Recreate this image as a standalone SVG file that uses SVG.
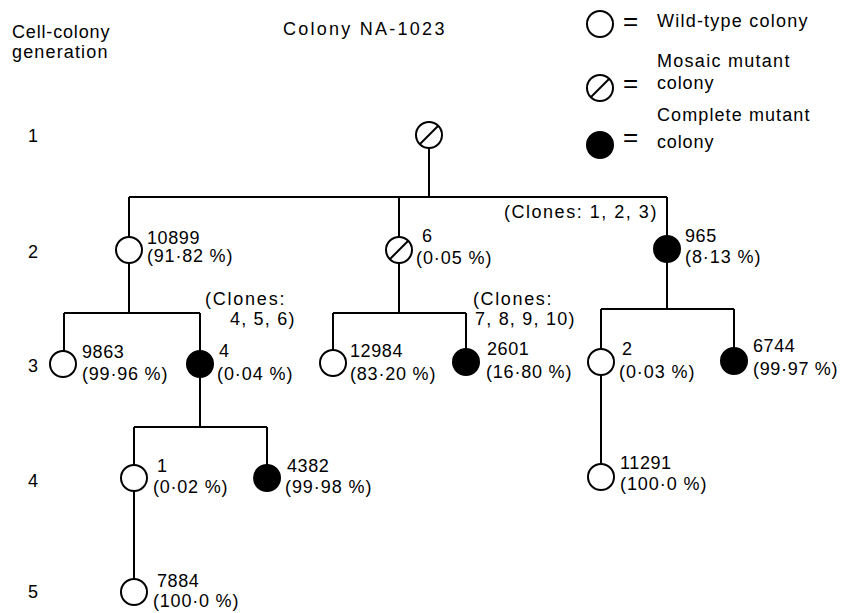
<svg xmlns="http://www.w3.org/2000/svg" width="841" height="613" viewBox="0 0 841 613">
<defs>
<style>
.t{font-family:"Liberation Sans",Arial,sans-serif;font-size:18px;fill:#000;letter-spacing:0.6px}
.eq{font-family:"Liberation Sans",Arial,sans-serif;font-size:26px;fill:#000}
.w{fill:#fff;stroke:#000;stroke-width:2}
.f{fill:#000;stroke:#000;stroke-width:2}
.s{stroke:#000;stroke-width:2;fill:none}
#connectors path{stroke:#000;stroke-width:2;fill:none}
</style>
</defs>
<rect width="841" height="613" fill="#fff"/>

<g id="headers">
<text class="t" x="12" y="38" textLength="98" lengthAdjust="spacing">Cell-colony</text>
<text class="t" x="12" y="58" textLength="96" lengthAdjust="spacing">generation</text>
<text class="t" x="283" y="35" textLength="162" lengthAdjust="spacing">Colony NA-1023</text>
<text class="t" x="28" y="142">1</text>
<text class="t" x="28" y="258">2</text>
<text class="t" x="28" y="372">3</text>
<text class="t" x="28" y="487">4</text>
<text class="t" x="28" y="598">5</text>
</g>

<g id="legend">
<circle class="w" cx="600" cy="24" r="13"/>
<text class="eq" x="623" y="30">=</text>
<text class="t" x="657" y="27" textLength="151" lengthAdjust="spacing">Wild-type colony</text>
<circle class="w" cx="600" cy="88" r="13"/>
<line class="s" x1="591" y1="97" x2="609" y2="79"/>
<text class="eq" x="623" y="92">=</text>
<text class="t" x="657" y="67" textLength="133" lengthAdjust="spacing">Mosaic mutant</text>
<text class="t" x="657" y="89" textLength="57" lengthAdjust="spacing">colony</text>
<circle class="f" cx="600" cy="145" r="13"/>
<text class="eq" x="623" y="146">=</text>
<text class="t" x="657" y="121" textLength="153" lengthAdjust="spacing">Complete mutant</text>
<text class="t" x="657" y="148" textLength="57" lengthAdjust="spacing">colony</text>
</g>

<g id="connectors">
<path d="M429 148 V197"/>
<path d="M129 197 H667"/>
<path d="M129 197 V237 M399 197 V237 M667 197 V236"/>
<path d="M129 263 V313 M64 313 H200 M64 313 V351 M200 313 V351"/>
<path d="M399 263 V313 M333 313 H466 M333 313 V350 M466 313 V349"/>
<path d="M667 262 V309 M601 309 H734 M601 309 V349 M734 309 V348"/>
<path d="M200 377 V427 M134 427 H267 M134 427 V466 M267 427 V465"/>
<path d="M134 491 V579"/>
<path d="M601 375 V464"/>
</g>

<g id="n-root">
<circle class="w" cx="429" cy="135" r="13"/>
<line class="s" x1="420" y1="144" x2="438" y2="126"/>
</g>

<g id="n-10899">
<circle class="w" cx="129" cy="250" r="13"/>
<text class="t" x="147" y="244">10899</text>
<text class="t" x="147" y="262" textLength="86" lengthAdjust="spacing">(91·82 %)</text>
</g>

<g id="n-6">
<circle class="w" cx="399" cy="250" r="13"/>
<line class="s" x1="390" y1="259" x2="408" y2="241"/>
<text class="t" x="422" y="242">6</text>
<text class="t" x="416" y="264" textLength="76" lengthAdjust="spacing">(0·05 %)</text>
</g>

<g id="n-965">
<circle class="f" cx="667" cy="249" r="13"/>
<text class="t" x="685" y="242">965</text>
<text class="t" x="685" y="263" textLength="76" lengthAdjust="spacing">(8·13 %)</text>
</g>

<g id="clones">
<text class="t" x="504" y="218" textLength="153" lengthAdjust="spacing">(Clones: 1, 2, 3)</text>
<text class="t" x="205" y="305" textLength="80" lengthAdjust="spacing">(Clones:</text>
<text class="t" x="230" y="325" textLength="65" lengthAdjust="spacing">4, 5, 6)</text>
<text class="t" x="473" y="305" textLength="79" lengthAdjust="spacing">(Clones:</text>
<text class="t" x="475" y="325" textLength="100" lengthAdjust="spacing">7, 8, 9, 10)</text>
</g>

<g id="n-9863">
<circle class="w" cx="63" cy="364" r="13"/>
<text class="t" x="82" y="358">9863</text>
<text class="t" x="82" y="380" textLength="86" lengthAdjust="spacing">(99·96 %)</text>
</g>

<g id="n-4">
<circle class="f" cx="200" cy="364" r="13"/>
<text class="t" x="219" y="357">4</text>
<text class="t" x="217" y="380" textLength="76" lengthAdjust="spacing">(0·04 %)</text>
</g>

<g id="n-12984">
<circle class="w" cx="333" cy="363" r="13"/>
<text class="t" x="350" y="357">12984</text>
<text class="t" x="350" y="380" textLength="86" lengthAdjust="spacing">(83·20 %)</text>
</g>

<g id="n-2601">
<circle class="f" cx="466" cy="362" r="13"/>
<text class="t" x="487" y="355">2601</text>
<text class="t" x="486" y="378" textLength="86" lengthAdjust="spacing">(16·80 %)</text>
</g>

<g id="n-2">
<circle class="w" cx="601" cy="362" r="13"/>
<text class="t" x="622" y="355">2</text>
<text class="t" x="619" y="378" textLength="76" lengthAdjust="spacing">(0·03 %)</text>
</g>

<g id="n-6744">
<circle class="f" cx="734" cy="361" r="13"/>
<text class="t" x="753" y="352">6744</text>
<text class="t" x="753" y="375" textLength="85" lengthAdjust="spacing">(99·97 %)</text>
</g>

<g id="n-1">
<circle class="w" cx="134" cy="478" r="13"/>
<text class="t" x="157" y="472">1</text>
<text class="t" x="153" y="493" textLength="75" lengthAdjust="spacing">(0·02 %)</text>
</g>

<g id="n-4382">
<circle class="f" cx="267" cy="478" r="13"/>
<text class="t" x="287" y="472">4382</text>
<text class="t" x="285" y="493" textLength="87" lengthAdjust="spacing">(99·98 %)</text>
</g>

<g id="n-11291">
<circle class="w" cx="601" cy="477" r="13"/>
<text class="t" x="620" y="469">11291</text>
<text class="t" x="620" y="490" textLength="87" lengthAdjust="spacing">(100·0 %)</text>
</g>

<g id="n-7884">
<circle class="w" cx="134" cy="592" r="13"/>
<text class="t" x="157" y="587">7884</text>
<text class="t" x="153" y="607" textLength="86" lengthAdjust="spacing">(100·0 %)</text>
</g>
</svg>
